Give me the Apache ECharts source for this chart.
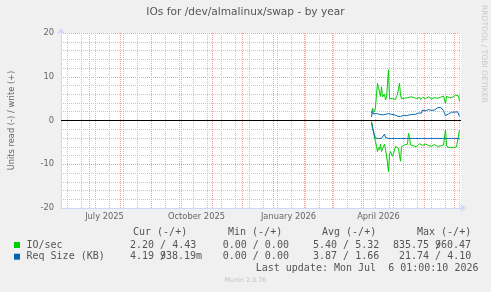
<!DOCTYPE html>
<html><head><meta charset="utf-8">
<script src="https://cdn.jsdelivr.net/npm/echarts@6/dist/echarts.min.js"></script>
<style>html,body{margin:0;padding:0;background:#f0f0f0}#c{width:491px;height:292px}</style>
</head><body><div id="c"></div>
<script>
// ---- text ----
const chartTitle = 'IOs for /dev/almalinux/swap - by year';
const yAxisName = 'Units read (-) / write (+)';
const watermark = 'RRDTOOL / TOBI OETIKER';
const footer = 'Munin 2.0.76';
const lastUpdate = 'Last update: Mon Jul  6 01:00:10 2026';

// ---- axes ----
const xLabelDates = ['2025-07-16', '2025-10-16', '2026-01-16', '2026-04-16'];
const xLabels = ['July 2025', 'October 2025', 'January 2026', 'April 2026'];
const yTicks = [-20, -10, 0, 10, 20];

// ---- data: one value per day starting at firstDay ----
const firstDay = '2026-04-09';
// IO/sec write (+)
const ioWrite = [1.6,2.8,2.4,2.0,3.0,6.0,8.5,7.5,6.5,5.5,
 7.7,5.4,5.0,6.0,4.7,5.2,5.0,11.6,5.0,5.0,
 4.7,5.0,5.2,5.0,4.8,5.5,6.0,7.3,8.5,5.8,
 5.0,4.9,5.0,5.1,5.3,5.0,5.2,5.1,5.4,5.4,
 5.2,5.0,5.3,5.4,5.1,5.0,5.2,5.1,5.3,4.8,
 5.2,5.3,5.4,5.2,5.0,5.1,5.2,5.4,5.3,5.1,
 5.0,5.2,5.3,5.2,5.1,5.0,5.1,5.2,5.4,5.3,
 5.1,5.3,5.6,5.9,3.9,5.5,5.4,5.3,5.2,5.4,
 5.5,5.3,5.4,5.6,5.8,5.4,5.5,5.6,4.43];
// IO/sec read (drawn as negative)
const ioRead = [0.2,1.4,2.5,4.0,4.8,6.0,7.1,6.2,6.7,5.4,
 7.1,7.3,5.9,5.4,6.7,7.9,7.5,11.7,7.7,7.1,
 6.7,8.2,7.5,7.2,5.9,6.2,5.8,6.4,8.0,9.3,
 6.0,5.7,5.9,5.6,5.5,5.7,5.4,2.9,3.7,5.6,
 5.7,5.8,5.8,5.6,5.9,6.0,5.7,5.9,5.3,5.2,
 5.6,5.7,5.9,5.6,5.4,5.3,5.4,5.7,5.6,5.8,
 5.9,5.7,5.6,5.5,5.6,5.8,5.9,5.7,5.6,5.8,
 5.7,5.9,5.6,5.7,2.1,5.6,6.1,6.2,6.1,6.2,
 6.3,6.3,6.2,6.1,5.8,6.0,5.9,5.7,2.2];
// Req Size (KB) write (+)
const reqWrite = [0.8,2.2,1.5,1.8,1.2,1.6,1.3,1.9,1.4,1.2,
 1.5,1.3,1.6,1.1,1.4,1.5,1.3,1.6,1.5,1.3,
 1.4,1.2,1.5,1.3,1.5,1.2,1.0,1.1,1.3,0.9,
 1.1,1.0,1.2,1.1,1.3,1.1,1.4,1.2,1.3,1.4,
 1.5,1.4,1.6,1.5,1.4,1.6,1.5,1.7,1.6,1.8,
 1.7,2.4,2.1,2.5,2.2,2.4,2.1,2.5,2.2,2.6,
 2.3,2.5,2.7,2.4,2.8,2.6,2.9,2.7,3.0,3.0,
 3.4,3.0,2.3,1.6,1.1,1.3,1.3,1.5,1.5,1.7,
 1.9,2.2,2.0,1.9,2.1,2.3,2.0,1.7,0.94];
// Req Size (KB) read (drawn as negative)
const reqRead = [0.5,1.8,2.6,3.4,4.0,4.1,4.1,4.1,4.1,4.1,
 4.1,4.1,3.8,3.1,3.9,4.1,4.1,4.1,4.1,4.1,
 4.1,4.1,4.1,4.1,4.1,4.1,4.1,4.1,4.1,4.1,
 4.1,4.1,4.1,4.1,4.1,4.1,4.1,4.1,4.1,4.1,
 4.1,4.1,4.1,4.1,4.1,4.1,4.1,4.1,4.1,4.1,
 4.1,4.1,4.1,4.1,4.1,4.1,4.1,4.1,4.1,4.1,
 4.1,4.1,4.1,4.1,4.1,4.1,4.1,4.1,4.1,4.1,
 4.1,4.1,4.1,4.1,4.1,4.1,4.1,4.1,4.1,4.1,
 4.1,4.1,4.1,4.1,4.1,4.1,4.1,4.1,4.19];

// ---- legend table ----
const legendHeaders = ['Cur (-/+)', 'Min (-/+)', 'Avg (-/+)', 'Max (-/+)'];
const legendNames = ['IO/sec', 'Req Size (KB)'];
const legendColors = ['#00cc00', '#0066b3'];
const ioStats = ['2.20 / 4.43', '0.00 / 0.00', '5.40 / 5.32', '835.75 /', '960.47'];
const reqStats = ['4.19 /', '938.19m', '0.00 / 0.00', '3.87 / 1.66', '21.74 / 4.10'];

// ---- build ----
const DAY = 86400000;
const xMin = Date.UTC(2025, 5, 2, 12, 0);
const xMax = xMin + 400 * DAY;
function ts(s) { const p = s.split('-').map(Number); return Date.UTC(p[0], p[1] - 1, p[2]); }
const start = ts(firstDay);
const pairs = (arr, sign) => arr.map((v, i) => [start + i * DAY, sign * v]);
const labelTs = xLabelDates.map(ts);

const RED = '#f0a0a0';
const GRAY = '#c6c6c6';
const DOT = [1, 1];
const gridLines = [];
for (let t = Date.UTC(2025, 5, 9); t <= xMax; t += 14 * DAY) {
  gridLines.push({ xAxis: t, lineStyle: { color: GRAY, type: DOT, width: 1 } });
}
for (let y = 2025, m = 6; Date.UTC(y, m, 1) <= xMax; m++) {
  if (m > 11) { m = 0; y++; }
  gridLines.push({ xAxis: Date.UTC(y, m, 1), lineStyle: { color: RED, type: DOT, width: 1 } });
}
gridLines.push({ yAxis: 0, lineStyle: { color: '#000000', type: 'solid', width: 1 } });

const FONT = '"DejaVu Sans", sans-serif';
const MONO = '10px "DejaVu Sans Mono", monospace';
const TXT = '#555';

function line(name, data, color, extra) {
  return Object.assign({
    name, type: 'line', data, showSymbol: false, symbol: 'none', silent: true,
    lineStyle: { width: 1, color }, itemStyle: { color }, z: 3
  }, extra || {});
}

const graphic = [];
function txt(x, y, text, font, fill, extra) {
  graphic.push(Object.assign({ type: 'text', x, y, silent: true,
    style: { text, font, fill, align: 'left', verticalAlign: 'middle' } }, extra || {}));
}
const headerX = [133, 228, 322, 417];
legendHeaders.forEach((h, i) => txt(headerX[i], 232.7, h, MONO, TXT));
const rowY = [245, 256.7];
legendNames.forEach((n, i) => {
  graphic.push({ type: 'rect', silent: true, shape: { x: 14, y: rowY[i] - 3, width: 6, height: 6 },
    style: { fill: legendColors[i] } });
  txt(26.5, rowY[i], n, MONO, TXT);
});
const ioX = [130, 222.7, 313, 393, 435];
ioStats.forEach((s, i) => txt(ioX[i], rowY[0], s, MONO, TXT));
const reqX = [130, 160, 222.7, 313, 399];
reqStats.forEach((s, i) => txt(reqX[i], rowY[1], s, MONO, TXT));
txt(255.7, 268.3, lastUpdate, MONO, TXT);
graphic.push({ type: 'text', x: 245.5, y: 280, silent: true,
  style: { text: footer, font: '6.4px ' + FONT, fill: '#c4c4c4', align: 'center', verticalAlign: 'middle' } });
graphic.push({ type: 'text', x: 484, y: 5, rotation: -Math.PI / 2, silent: true,
  style: { text: watermark, font: '7.6px ' + FONT, fill: '#c8c8c8', align: 'left', verticalAlign: 'middle' } });

const chart = echarts.init(document.getElementById('c'), null, { renderer: 'canvas' });
chart.setOption({
  animation: false,
  backgroundColor: '#f0f0f0',
  title: {
    text: chartTitle, left: 'center', top: 7, padding: 0,
    textStyle: { fontFamily: FONT, fontSize: 10.6, fontWeight: 'normal', color: '#555' }
  },
  grid: { left: 61, top: 33, width: 400, height: 175, show: true, backgroundColor: '#ffffff', borderWidth: 0 },
  xAxis: {
    type: 'value', min: xMin, max: xMax,
    axisLine: { onZero: false, lineStyle: { color: '#CFD6F8', width: 1 },
      symbol: ['none', 'arrow'], symbolSize: [6, 6], symbolOffset: [0, 5] },
    axisTick: { show: false },
    splitLine: { show: false },
    axisLabel: {
      customValues: labelTs,
      formatter: v => { const i = labelTs.indexOf(v); return i >= 0 ? xLabels[i] : ''; },
      fontFamily: FONT, fontSize: 8.3, color: '#666', margin: 5, hideOverlap: false
    }
  },
  yAxis: {
    type: 'value', min: yTicks[0], max: yTicks[yTicks.length - 1], interval: 10,
    name: yAxisName, nameLocation: 'middle', nameGap: 45,
    nameTextStyle: { fontFamily: FONT, fontSize: 8.3, color: '#666' },
    axisLine: { show: true, onZero: false, lineStyle: { color: '#CFD6F8', width: 1 },
      symbol: ['none', 'arrow'], symbolSize: [6, 6], symbolOffset: [0, 5] },
    axisTick: { show: false },
    axisLabel: { fontFamily: FONT, fontSize: 8.3, color: '#666', margin: 7 },
    splitLine: { show: true, lineStyle: { color: RED, type: DOT, width: 1 } },
    minorTick: { show: false, splitNumber: 5 },
    minorSplitLine: { show: true, lineStyle: { color: GRAY, type: DOT, width: 1 } }
  },
  series: [
    line('IO/sec read', pairs(ioRead, -1), '#00cc00', {
      markLine: { silent: true, symbol: 'none', z: 1, label: { show: false }, animation: false,
        lineStyle: { color: GRAY, type: DOT, width: 1 }, data: gridLines }
    }),
    line('IO/sec write', pairs(ioWrite, 1), '#00cc00'),
    line('Req Size read', pairs(reqRead, -1), '#0066b3'),
    line('Req Size write', pairs(reqWrite, 1), '#0066b3')
  ],
  graphic
});
</script></body></html>
